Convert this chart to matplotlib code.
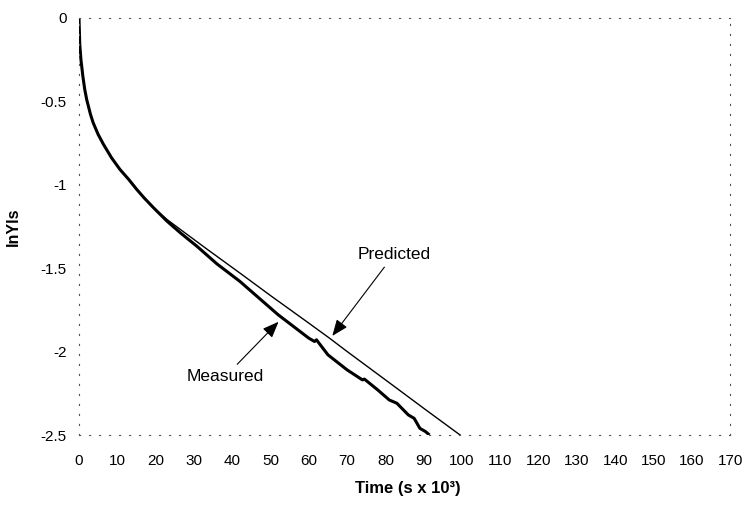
import matplotlib
matplotlib.use('Agg')
import matplotlib.pyplot as plt

plt.rcParams['font.family'] = ['Liberation Sans', 'DejaVu Sans']

# time in s x 10^3, values are ln Y/Ys
time_pred = [0, 0.2, 0.5, 1, 1.5, 2, 3, 3.7, 5, 6.4, 8.5, 10.7, 13, 15.1, 17,
             19.5, 23, 33, 42, 50, 60, 65.4, 70, 81.2, 90, 99.5]
lny_pred = [0, -0.16, -0.25, -0.35, -0.43, -0.49, -0.58, -0.63, -0.70, -0.76,
            -0.84, -0.91, -0.97, -1.03, -1.08, -1.14, -1.21, -1.38, -1.53,
            -1.665, -1.83, -1.92, -2.0, -2.19, -2.34, -2.50]

time_meas = [0, 0.2, 0.5, 1, 1.5, 2, 3, 3.7, 5, 6.4, 8.5, 10.7, 13, 15.1, 17,
             19.5, 23, 26.5, 30.8, 36, 42, 47, 52, 56, 60, 61.5, 62, 63, 65,
             70, 74, 74.5, 78, 81, 83, 86, 87.5, 89, 90.5, 91.5]
lny_meas = [0, -0.16, -0.25, -0.35, -0.43, -0.49, -0.58, -0.63, -0.70, -0.76,
            -0.84, -0.91, -0.97, -1.03, -1.08, -1.14, -1.22, -1.29, -1.37,
            -1.475, -1.58, -1.68, -1.78, -1.85, -1.92, -1.94, -1.93, -1.96,
            -2.02, -2.11, -2.17, -2.165, -2.23, -2.29, -2.31, -2.38, -2.40,
            -2.46, -2.48, -2.50]

xticks = list(range(0, 171, 10))
yticks = [0, -0.5, -1, -1.5, -2, -2.5]

fig = plt.figure(figsize=(7.48, 5.05), dpi=100)
ax = fig.add_axes([0.1056, 0.1386, 0.8705, 0.8267])

ax.plot(time_pred, lny_pred, color='black', lw=1.0)
ax.plot(time_meas, lny_meas, color='black', lw=2.2, solid_capstyle='butt',
        solid_joinstyle='round')

ax.set_xlim(0, 170)
ax.set_ylim(-2.5, 0)
ax.set_xticks(xticks)
ax.set_xticklabels([str(t) for t in xticks])
ax.set_yticks(yticks)
ax.set_yticklabels(['0', '-0.5', '-1', '-1.5', '-2', '-2.5'])
ax.tick_params(axis='both', length=0, labelsize=11)
ax.tick_params(axis='x', pad=14)
ax.tick_params(axis='y', pad=9)

for side in ['top', 'bottom', 'left', 'right']:
    ax.spines[side].set_linestyle((0, (1, 8)))
    ax.spines[side].set_linewidth(0.8)
    ax.spines[side].set_color('#555555')

ax.set_xlabel('Time (s x 10³)', fontsize=12, fontweight='bold')
ax.set_ylabel('lnYls', fontsize=11.5, fontweight='bold')
ax.xaxis.set_label_coords(0.505, -0.11)
ax.yaxis.set_label_coords(-0.09, 0.5)

arrow = dict(arrowstyle='-|>,head_length=0.55,head_width=0.22', color='black',
             lw=0.8, mutation_scale=18)
ax.annotate('Predicted', xy=(65.7, -1.92), xytext=(82.2, -1.42),
            ha='center', va='center', fontsize=12.5, arrowprops=arrow)
ax.annotate('Measured', xy=(52.6, -1.81), xytext=(38.2, -2.15),
            ha='center', va='center', fontsize=12.5, arrowprops=arrow)

fig.savefig('out.png', dpi=100)
